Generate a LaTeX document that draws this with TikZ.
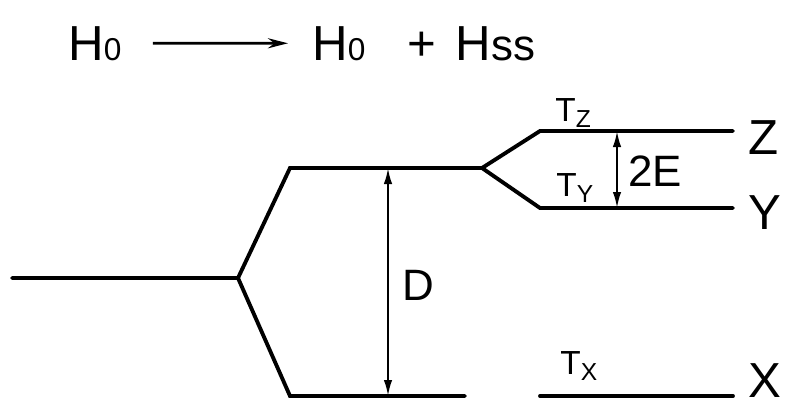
\documentclass[tikz,border=0pt]{standalone}
\usepackage{fontspec}
\setmainfont{Liberation Sans}
\usetikzlibrary{arrows.meta}

\newcommand{\lowsub}[2]{{\fontsize{#1}{#1}\selectfont #2}}
\newcommand{\tsub}[1]{\raisebox{-0.2em}{\fontsize{14}{14}\selectfont #1}}

\begin{document}
\begin{tikzpicture}[
  x=0.02cm, y=-0.02cm,
  level/.style={line width=2.2pt, line cap=round},
  dimarrow/.style={line width=1.2pt, {Latex[length=3.2mm,width=1.7mm]}-{Latex[length=3.2mm,width=1.7mm]}},
  bigtxt/.style={font=\fontsize{28}{30}\selectfont, inner sep=0pt},
  midtxt/.style={font=\fontsize{25}{27}\selectfont, inner sep=0pt},
  smalltxt/.style={font=\fontsize{19}{21}\selectfont, inner sep=0pt}
]
\useasboundingbox (0,0) rectangle (786,409);

% title
\node[bigtxt, anchor=base west] (h0) at (68,60) {H\lowsub{18}{0}};
\node[bigtxt, anchor=base west] (hfull) at (312,60) {H\lowsub{18}{0}\hspace{24pt}+\hspace{11pt}H\lowsub{25}{ss}};
\draw[line width=1.6pt, -{Stealth[length=4mm,width=2mm]}, shorten <=0.62cm, shorten >=0.48cm] (h0.east) -- (hfull.west);

% level points
\coordinate (g0) at (12,278);
\coordinate (fork) at (238,278);
\coordinate (d0) at (290,168);
\coordinate (d1) at (482,168);
\coordinate (b0) at (290,396);
\coordinate (b1) at (465,396);
\coordinate (z0) at (540,131);
\coordinate (z1) at (733,131);
\coordinate (y0) at (540,208);
\coordinate (y1) at (733,208);
\coordinate (x0) at (540,396);
\coordinate (x1) at (733,396);

\draw[level] (g0) -- (fork) -- (d0) -- (d1);
\draw[level] (fork) -- (b0) -- (b1);
\draw[level] (d1) -- (z0) -- (z1);
\draw[level] (d1) -- (y0) -- (y1);
\draw[level] (x0) -- (x1);

% splittings
\coordinate (Dtop) at (388,168);
\coordinate (Dbot) at (388,396);
\coordinate (Etop) at (617,131);
\coordinate (Ebot) at (617,208);
\draw[dimarrow] (Dtop) -- (Dbot);
\draw[dimarrow] (Etop) -- (Ebot);
\node[midtxt, anchor=base west] (dlab) at (402,300) {D};
\node[midtxt, anchor=base west] (elab) at (628,186) {2E};

% labels
\node[smalltxt, anchor=base west] (tz) at (555,121) {T\tsub{Z}};
\node[smalltxt, anchor=base west] (ty) at (556,196) {T\tsub{Y}};
\node[smalltxt, anchor=base west] (tx) at (560,374) {T\tsub{X}};
\node[bigtxt, anchor=west] (zlab) at (748,138) {Z};
\node[bigtxt, anchor=west] (ylab) at (748,213) {Y};
\node[bigtxt, anchor=base west] (xlab) at (748,397) {X};
\end{tikzpicture}
\end{document}
